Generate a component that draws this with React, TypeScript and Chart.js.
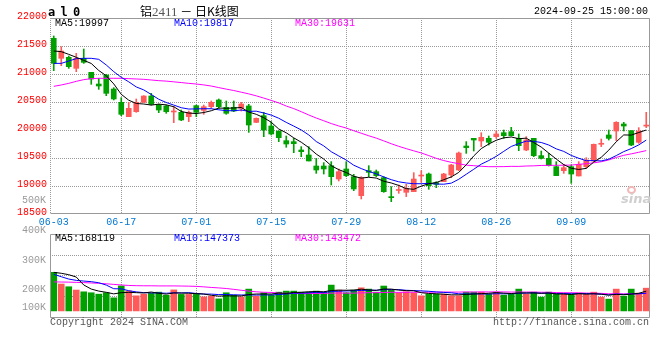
import React, { useEffect, useRef } from "react";
import { Chart, registerables } from "chart.js";

Chart.register(...registerables);

const MONO = "'Liberation Mono', 'DejaVu Sans Mono', monospace";
const RED = "#ff5a5a";
const GREEN = "#00a000";
const GRID = "#999999";

const dates = [
  "06-03","06-04","06-05","06-06","06-07","06-11","06-12","06-13","06-14","06-17",
  "06-18","06-19","06-20","06-21","06-24","06-25","06-26","06-27","06-28","07-01",
  "07-02","07-03","07-04","07-05","07-08","07-09","07-10","07-11","07-12","07-15",
  "07-16","07-17","07-18","07-19","07-22","07-23","07-24","07-25","07-26","07-29",
  "07-30","07-31","08-01","08-02","08-05","08-06","08-07","08-08","08-09","08-12",
  "08-13","08-14","08-15","08-16","08-19","08-20","08-21","08-22","08-23","08-26",
  "08-27","08-28","08-29","08-30","09-02","09-03","09-04","09-05","09-06","09-09",
  "09-10","09-11","09-12","09-13","09-18","09-19","09-20","09-23","09-24","09-25",
];
const tickDates = ["06-03","06-17","07-01","07-15","07-29","08-12","08-26","09-09"];

const opens = [
  21637,21280,21298,21101,21280,21030,20821,20982,20732,20494,
  20238,20327,20494,20607,20446,20429,20322,20316,20238,20435,
  20350,20417,20536,20405,20405,20387,20429,20136,20256,20071,
  19982,19810,19792,19643,19554,19357,19357,19363,19125,19304,
  19167,18827,19274,19256,19149,18800,18920,18887,18899,19178,
  19214,19060,19078,19196,19286,19714,19851,19804,19851,19881,
  19952,19970,19851,19643,19851,19542,19494,19345,19274,19345,
  19179,19345,19447,19745,19911,19982,20107,19988,19780,20070,
];
const highs = [
  21679,21488,21321,21369,21446,21030,20923,20994,20756,20577,
  20494,20554,20613,20655,20464,20446,20420,20357,20339,20446,
  20446,20518,20554,20518,20518,20494,20458,20215,20316,20149,
  19982,19893,19851,19703,19703,19494,19417,19435,19304,19435,
  19208,19167,19363,19286,19167,18988,19018,19030,19238,19274,
  19232,19078,19226,19387,19607,19792,19851,19952,19893,19988,
  20000,20048,19929,19881,19851,19625,19583,19435,19387,19375,
  19435,19506,19750,19839,20000,20149,20137,19988,20042,20316,
];
const lows = [
  21060,21149,21101,21042,21190,20816,20726,20613,20536,20256,
  20238,20316,20494,20446,20310,20298,20131,20167,20149,20238,
  20280,20387,20387,20280,20327,20339,19958,20131,19881,19911,
  19792,19691,19595,19524,19447,19226,19214,19018,19089,19167,
  18917,18768,19167,19167,18887,18720,18869,18810,18899,19066,
  18941,18970,19078,19149,19274,19583,19625,19703,19732,19851,
  19851,19893,19631,19631,19524,19482,19357,19185,19226,19048,
  19179,19316,19435,19703,19821,19810,19982,19720,19762,20042,
];
const closes = [
  21190,21410,21131,21280,21208,20911,20786,20655,20554,20280,
  20387,20494,20607,20458,20357,20327,20333,20179,20316,20316,
  20417,20494,20417,20298,20339,20464,20089,20208,20000,19929,
  19863,19750,19756,19613,19447,19286,19304,19167,19256,19185,
  18947,19149,19244,19185,18899,18792,18929,18958,19125,19185,
  19006,19030,19214,19375,19589,19685,19821,19869,19780,19929,
  19899,19899,19720,19821,19542,19494,19363,19185,19327,19214,
  19387,19464,19744,19755,19851,20137,20071,19732,19982,20077,
];
const ma5 = [
  21411,21399,21351,21298,21244,21188,21063,20968,20823,20637,
  20532,20474,20464,20445,20461,20449,20416,20331,20302,20294,
  20312,20344,20392,20388,20393,20402,20321,20280,20220,20138,
  20018,19950,19860,19782,19686,19570,19481,19363,19292,19240,
  19172,19141,19156,19142,19085,19054,19010,18953,18941,18998,
  19041,19061,19112,19162,19243,19379,19537,19668,19749,19817,
  19860,19875,19845,19854,19776,19695,19588,19481,19382,19317,
  19295,19315,19427,19513,19640,19790,19912,19909,19955,20000,
];
const ma10 = [
  21190,21190,21232,21274,21280,21280,21262,21161,21042,20941,
  20860,20769,20716,20634,20549,20491,20445,20398,20374,20377,
  20380,20380,20361,20345,20344,20357,20333,20336,20304,20266,
  20210,20136,20070,20001,19912,19794,19716,19612,19537,19463,
  19371,19311,19260,19217,19162,19113,19075,19054,19041,19041,
  19047,19035,19032,19051,19120,19210,19299,19390,19455,19530,
  19619,19706,19757,19801,19797,19777,19732,19663,19618,19546,
  19495,19452,19454,19448,19478,19543,19614,19668,19734,19820,
];
const ma30 = [
  20780,20804,20833,20869,20899,20917,20923,20923,20923,20923,
  20917,20911,20905,20893,20881,20873,20860,20847,20833,20821,
  20805,20785,20757,20730,20705,20675,20645,20610,20570,20528,
  20484,20428,20382,20327,20268,20214,20165,20115,20072,20035,
  19987,19942,19897,19855,19806,19755,19708,19667,19628,19590,
  19543,19494,19454,19423,19398,19372,19363,19352,19345,19345,
  19346,19351,19350,19357,19360,19367,19369,19369,19372,19373,
  19387,19398,19414,19433,19465,19510,19548,19574,19602,19632,
];

// volumes in thousands (K)
const volumesK = [
  327,228,205,177,162,154,142,154,111,212,
  169,128,142,150,159,132,178,140,140,140,
  119,125,102,154,134,119,185,125,154,134,
  159,168,168,159,159,168,159,219,176,154,
  176,196,185,159,211,174,154,162,154,128,
  142,142,142,128,128,159,159,159,142,159,
  134,142,185,142,159,117,159,140,140,140,
  151,140,159,117,100,185,125,185,151,193,
];
const volMa5K = [
  327,319,307,287,219.8,185.2,168,157.8,144.6,154.6,
  157.6,154.8,152.4,160.2,149.6,142.2,152.2,151.8,149.8,146,
  143.4,132.8,125.2,128,126.8,126.8,138.8,143.4,143.4,143.4,
  151.4,148,156.6,157.6,162.6,164.4,162.6,172.8,176.2,175.2,
  176.8,184.2,177.4,174,185.4,185,176.6,172,171,154.4,
  148,145.6,141.6,136.4,136.4,139.8,143.2,146.6,149.4,155.6,
  150.6,147.2,152.4,152.4,152.4,149,152.4,143.4,143,139.2,
  146,142.2,146,141.4,133.4,140.2,137.2,142.4,149.2,167.8,
];
const volMa10K = [
  310,290,270,259,253,248,239,219,188,187.2,
  171.4,161.4,155.1,152.4,152.1,149.9,153.5,152.1,155,147.8,
  142.8,142.5,138.5,138.9,136.4,135.1,135.8,134.3,135.7,135.1,
  139.1,143.4,150,150.5,153,157.9,155.3,164.7,166.9,168.9,
  170.6,173.4,175.1,175.1,180.3,180.9,180.4,174.7,172.5,169.9,
  166.5,161.1,156.8,153.7,145.4,143.9,144.4,144.1,142.9,146,
  145.2,145.2,149.5,150.9,154,149.8,149.8,147.9,147.7,145.8,
  147.5,147.3,144.7,142.2,136.3,143.1,139.7,144.2,145.3,150.6,
];
const volMa30K = [
  246,245,244,242,240,237,234,230,225,220,
  216,214,213,213,212,212,212,211,210,208,
  204,199,195,190,183,175,168,162,158,156.7,
  151.1,149.1,147.9,147.3,147.2,147.6,148.2,150.4,152.5,150.6,
  150.8,153.1,154.5,154.8,156.6,158,157.2,157.9,158.4,158,
  158.7,159.3,160.6,159.8,159.6,160.9,160,161.2,160.8,161.6,
  160.8,159.9,160.5,159.9,159.9,158.2,158.2,155.6,154.4,153.9,
  153.1,151.2,150.3,148.9,145.2,145.6,144.6,145.4,145.3,147.5,
];

const priceGrid = [19000, 19500, 20000, 20500, 21000, 21500];
const volTickLabels = ["500K", "400K", "300K", "200K", "100K"];
const volLabelTops = [195, 225, 255, 284, 302];
const volGridK = [127, 302, 477];

const maLegend = ["MA5:19997", "MA10:19817", "MA30:19631"];
const volLegend = ["MA5:168119", "MA10:147373", "MA30:143472"];
const legendColors = ["#000000", "#0000ff", "#ff00ff"];
const legendLefts = [55, 174, 295];

const candleColors = closes.map((c, i) => (c >= opens[i] ? RED : GREEN));

function dotted(ctx: CanvasRenderingContext2D, x1: number, y1: number, x2: number, y2: number) {
  // draws a 1px dotted line (1 on, 1 off) as individual pixels for crispness
  ctx.fillStyle = GRID;
  if (y1 === y2) {
    for (let x = Math.round(x1); x <= Math.round(x2); x += 2) ctx.fillRect(x, Math.round(y1), 1, 1);
  } else {
    for (let y = Math.round(y1); y <= Math.round(y2); y += 2) ctx.fillRect(Math.round(x1), y, 1, 1);
  }
}

const framePlugin = {
  id: "frame",
  beforeDatasetsDraw(chart: any, _args: any, opts: any) {
    const { ctx, chartArea, scales } = chart;
    const { left, right, top, bottom } = chartArea;
    ctx.save();
    (opts.yGrid || []).forEach((v: number) => {
      const py = Math.round(scales.y.getPixelForValue(v));
      dotted(ctx, left, py, right - 1, py);
    });
    dates.forEach((d, i) => {
      if (i > 0 && tickDates.includes(d)) {
        const px = Math.round(scales.x.getPixelForValue(i));
        dotted(ctx, px, top, px, bottom - 1);
      }
    });
    ctx.restore();
  },
  afterDatasetsDraw(chart: any, _args: any, opts: any) {
    const { ctx, chartArea } = chart;
    const l = Math.round(chartArea.left) + 0.5;
    const r = Math.round(chartArea.right) - 0.5;
    const t = Math.round(chartArea.top) + 0.5;
    const b = Math.round(chartArea.bottom) - 0.5;
    ctx.save();
    ctx.strokeStyle = "#999999";
    ctx.lineWidth = 1;
    ctx.beginPath();
    ctx.moveTo(l, t);
    ctx.lineTo(r, t);
    ctx.lineTo(r, b);
    ctx.lineTo(l, b);
    if (!opts.leftDotted) ctx.lineTo(l, t);
    ctx.stroke();
    ctx.restore();
    if (opts.leftDotted) {
      ctx.save();
      dotted(ctx, Math.round(chartArea.left), Math.round(chartArea.top), Math.round(chartArea.left), Math.round(chartArea.bottom) - 1);
      ctx.restore();
    }
  },
};

function lineDs(data: number[], color: string) {
  return {
    type: "line" as const,
    data,
    borderColor: color,
    borderWidth: 1,
    pointRadius: 0,
    tension: 0,
    order: 0,
  };
}

export default function App() {
  const mainRef = useRef<HTMLCanvasElement>(null);
  const volRef = useRef<HTMLCanvasElement>(null);

  useEffect(() => {
    Chart.defaults.font.family = MONO;
    Chart.defaults.font.size = 10;

    const main = new Chart(mainRef.current as HTMLCanvasElement, {
      type: "bar",
      data: {
        labels: dates,
        datasets: [
          lineDs(ma5, "#000000"),
          lineDs(ma10, "#0000ff"),
          lineDs(ma30, "#ff00ff"),
          {
            type: "bar",
            data: opens.map((o, i) => [o, closes[i]]),
            backgroundColor: candleColors,
            barThickness: 5,
            minBarLength: 1,
            grouped: false,
            order: 1,
          } as any,
          {
            type: "bar",
            data: lows.map((l, i) => [l, highs[i]]),
            backgroundColor: candleColors,
            barThickness: 1,
            grouped: false,
            order: 2,
          } as any,
        ],
      },
      options: {
        responsive: false,
        animation: false,
        devicePixelRatio: 1,
        layout: { padding: { top: 18, right: 10, left: 0, bottom: 0 } },
        plugins: {
          legend: { display: false },
          tooltip: { enabled: false },
          frame: { leftDotted: true, yGrid: priceGrid },
        } as any,
        scales: {
          x: {
            type: "category",
            offset: true,
            grid: { display: false, drawTicks: false },
            border: { display: false },
            ticks: {
              autoSkip: false,
              maxRotation: 0,
              minRotation: 0,
              padding: 2,
              color: "#0078d2",
              font: { family: MONO, size: 10 },
              callback: (_v: any, i: number) =>
                tickDates.includes(dates[i]) ? dates[i] : "",
            },
            afterFit: (s: any) => {
              s.height = 20;
            },
          },
          y: {
            min: 18500,
            max: 22000,
            grid: { display: false, drawTicks: false },
            border: { display: false },
            ticks: {
              stepSize: 500,
              padding: 3,
              labelOffset: -2,
              color: "#ff0000",
              font: { family: MONO, size: 10 },
              callback: (v: any) => String(v),
            },
            afterFit: (s: any) => {
              s.width = 50;
            },
          },
        },
      } as any,
      plugins: [framePlugin],
    });

    const vol = new Chart(volRef.current as HTMLCanvasElement, {
      type: "bar",
      data: {
        labels: dates,
        datasets: [
          lineDs(volMa5K, "#000000"),
          lineDs(volMa10K, "#0000ff"),
          lineDs(volMa30K, "#ff00ff"),
          {
            type: "bar",
            data: volumesK,
            backgroundColor: candleColors,
            barThickness: 6,
            grouped: false,
            order: 1,
          } as any,
        ],
      },
      options: {
        responsive: false,
        animation: false,
        devicePixelRatio: 1,
        layout: { padding: { top: 44, right: 10, left: 0, bottom: 12 } },
        plugins: {
          legend: { display: false },
          tooltip: { enabled: false },
          frame: { leftDotted: false, yGrid: volGridK },
        } as any,
        scales: {
          x: {
            type: "category",
            offset: true,
            grid: { display: false, drawTicks: false },
            border: { display: false },
            ticks: { display: false },
            afterFit: (s: any) => {
              s.height = 0;
            },
          },
          y: {
            min: -60,
            max: 652,
            grid: { display: false, drawTicks: false },
            border: { display: false },
            ticks: { display: false },
            afterFit: (s: any) => {
              s.width = 50;
            },
          },
        },
      } as any,
      plugins: [framePlugin],
    });

    return () => {
      main.destroy();
      vol.destroy();
    };
  }, []);

  const base: React.CSSProperties = {
    position: "absolute",
    whiteSpace: "pre",
    lineHeight: "12px",
    fontSize: 10,
    fontFamily: MONO,
  };

  return (
    <div
      style={{
        position: "fixed",
        left: 0,
        top: 0,
        width: 660,
        height: 360,
        background: "#ffffff",
        overflow: "hidden",
      }}
    >
      <canvas
        ref={mainRef}
        width={660}
        height={234}
        style={{ position: "absolute", left: 0, top: 0, width: 660, height: 234 }}
      />
      <canvas
        ref={volRef}
        width={660}
        height={140}
        style={{ position: "absolute", left: 0, top: 190, width: 660, height: 140 }}
      />

      <span
        style={{
          ...base,
          left: 48,
          top: 5,
          fontSize: 12,
          lineHeight: "14px",
          fontWeight: "bold",
          letterSpacing: -1,
          fontFamily: "'DejaVu Sans Mono', monospace",
        }}
      >
        a l 0
      </span>
      <span
        style={{
          ...base,
          left: 140,
          top: 3,
          fontSize: 12,
          lineHeight: "15px",
          fontFamily: "'Noto Sans CJK SC', sans-serif",
          color: "#000",
        }}
      >
        铝<span style={{ color: "#555", fontFamily: "'Liberation Serif', serif", fontSize: 13 }}>2411</span> － 日K线图
      </span>
      <span style={{ ...base, right: 12, top: 6, color: "#000" }}>2024-09-25 15:00:00</span>

      {maLegend.map((t, i) => (
        <span key={"m" + i} style={{ ...base, left: legendLefts[i], top: 18, color: legendColors[i] }}>
          {t}
        </span>
      ))}
      {volLegend.map((t, i) => (
        <span key={"v" + i} style={{ ...base, left: legendLefts[i], top: 233, color: legendColors[i] }}>
          {t}
        </span>
      ))}
      {volTickLabels.map((t, i) => (
        <span key={"vl" + i} style={{ ...base, right: 614, top: volLabelTops[i], color: "#999" }}>
          {t}
        </span>
      ))}

      <span style={{ ...base, left: 50, top: 317, color: "#555" }}>Copyright 2024 SINA.COM</span>
      <span style={{ ...base, right: 11, top: 317, color: "#555" }}>http://finance.sina.com.cn</span>

      <span
        style={{
          position: "absolute",
          left: 627,
          top: 186,
          width: 9,
          height: 8,
          borderRadius: "50%",
          border: "2px solid #f2b8b8",
          boxSizing: "border-box",
        }}
      />
      <span
        style={{
          ...base,
          left: 621,
          top: 193,
          fontSize: 13,
          fontStyle: "italic",
          fontWeight: "bold",
          fontFamily: "'DejaVu Sans', sans-serif",
          color: "#cfcfcf",
        }}
      >
        sina
      </span>
    </div>
  );
}
